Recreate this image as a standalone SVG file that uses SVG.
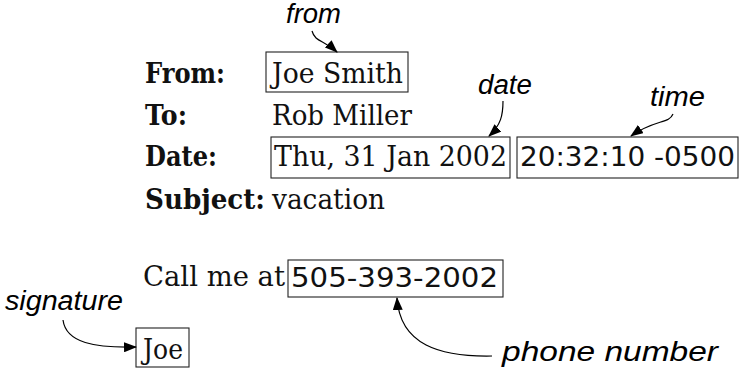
<svg xmlns="http://www.w3.org/2000/svg" width="739" height="375" viewBox="0 0 739 375">
  <defs>
    <marker id="ah" markerWidth="13" markerHeight="10" refX="12" refY="5" orient="auto" markerUnits="userSpaceOnUse">
      <path d="M0,0 L13,5 L0,10 z" fill="#000"/>
    </marker>
    <style>
      .hdr { font-family: "DejaVu Serif", "Liberation Serif", serif; font-weight: bold; font-size: 28px; fill: #111; }
      .val { font-family: "DejaVu Serif", "Liberation Serif", serif; font-size: 28px; fill: #111; }
      .num { font-family: "DejaVu Sans", "Liberation Sans", sans-serif; font-size: 27px; fill: #111; }
      .lbl { font-family: "Liberation Sans", Arial, sans-serif; font-style: italic; font-size: 27px; fill: #000; }
      .box { fill: none; stroke: #222; stroke-width: 1.1; }
      .conn { fill: none; stroke: #000; stroke-width: 1.2; marker-end: url(#ah); }
    </style>
  </defs>
  <rect width="739" height="375" fill="#fff"/>

  <!-- message header -->
  <g id="header-labels">
    <text class="hdr" x="145" y="83" textLength="80" lengthAdjust="spacingAndGlyphs">From:</text>
    <text class="hdr" x="145" y="125" textLength="42" lengthAdjust="spacingAndGlyphs">To:</text>
    <text class="hdr" x="145" y="166" textLength="72" lengthAdjust="spacingAndGlyphs">Date:</text>
    <text class="hdr" x="145" y="209" textLength="120" lengthAdjust="spacingAndGlyphs">Subject:</text>
  </g>

  <g id="from-node">
    <rect class="box" x="266" y="52" width="142" height="40"/>
    <text class="val" x="272" y="83" textLength="131" lengthAdjust="spacingAndGlyphs">Joe Smith</text>
  </g>

  <g id="to-value">
    <text class="val" x="272" y="125" textLength="140" lengthAdjust="spacingAndGlyphs">Rob Miller</text>
  </g>

  <g id="date-node">
    <rect class="box" x="271" y="137" width="239" height="41"/>
    <text class="val" x="274" y="166" textLength="233" lengthAdjust="spacingAndGlyphs">Thu, 31 Jan 2002</text>
  </g>

  <g id="time-node">
    <rect class="box" x="517" y="137" width="221" height="41"/>
    <text class="num" x="520" y="166" textLength="215" lengthAdjust="spacingAndGlyphs">20:32:10 -0500</text>
  </g>

  <g id="subject-value">
    <text class="val" x="272" y="209" textLength="113" lengthAdjust="spacingAndGlyphs">vacation</text>
  </g>

  <!-- message body -->
  <g id="body-text">
    <text class="val" x="143" y="286" textLength="142" lengthAdjust="spacingAndGlyphs">Call me at</text>
  </g>

  <g id="phone-node">
    <rect class="box" x="288" y="260" width="215" height="37"/>
    <text class="num" x="291" y="287" textLength="207" lengthAdjust="spacingAndGlyphs">505-393-2002</text>
  </g>

  <g id="signature-node">
    <rect class="box" x="136" y="328" width="53" height="39"/>
    <text class="val" x="143" y="359" textLength="40" lengthAdjust="spacingAndGlyphs">Joe</text>
  </g>

  <!-- annotation labels -->
  <g id="label-from"><text class="lbl" x="286" y="23" textLength="55" lengthAdjust="spacingAndGlyphs">from</text></g>
  <g id="label-date"><text class="lbl" x="478" y="94" textLength="54" lengthAdjust="spacingAndGlyphs">date</text></g>
  <g id="label-time"><text class="lbl" x="650" y="106" textLength="55" lengthAdjust="spacingAndGlyphs">time</text></g>
  <g id="label-signature"><text class="lbl" x="5" y="310" textLength="118" lengthAdjust="spacingAndGlyphs">signature</text></g>
  <g id="label-phone"><text class="lbl" x="502" y="361" textLength="216" lengthAdjust="spacingAndGlyphs">phone number</text></g>

  <!-- connectors -->
  <g id="connectors">
    <path class="conn" d="M312,31 C315,42 324,40 337,52"/>
    <path class="conn" d="M503,101 C503,115 501,125 489,136"/>
    <path class="conn" d="M673,114 C669,124 655,119 631,136"/>
    <path class="conn" d="M63,320 C66,343 95,348 136,347"/>
    <path class="conn" d="M492,356 C440,357 400,345 397,298"/>
  </g>
</svg>
